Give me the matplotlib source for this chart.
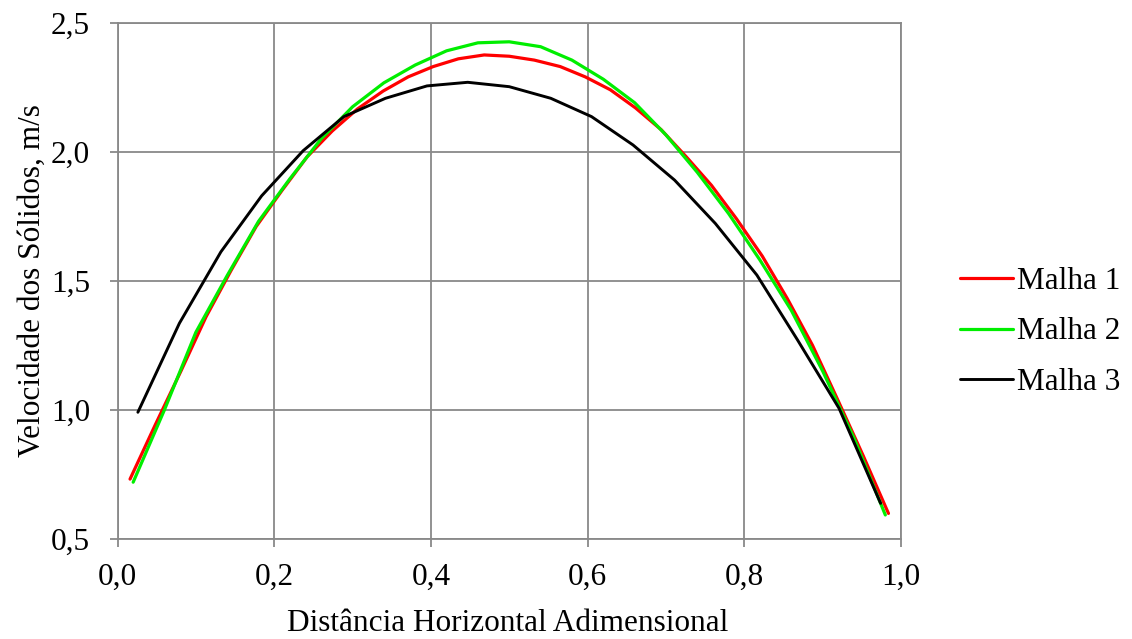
import matplotlib
matplotlib.use("Agg")
import matplotlib.pyplot as plt
from matplotlib.ticker import FuncFormatter, MultipleLocator

# Malha 1 (31 points)
x1 = [0.016, 0.048, 0.081, 0.113, 0.145, 0.177, 0.210, 0.242, 0.274, 0.306, 0.339,
      0.371, 0.403, 0.435, 0.468, 0.500, 0.532, 0.565, 0.597, 0.629, 0.661, 0.694,
      0.726, 0.758, 0.790, 0.823, 0.855, 0.887, 0.919, 0.952, 0.984]
y1 = [0.731, 0.94, 1.15, 1.36, 1.54, 1.71, 1.85, 1.98, 2.08, 2.165, 2.235,
      2.29, 2.33, 2.36, 2.375, 2.37, 2.355, 2.33, 2.29, 2.24, 2.17, 2.085,
      1.98, 1.87, 1.74, 1.595, 1.43, 1.25, 1.04, 0.82, 0.598]

# Malha 2 (25 points)
x2 = [0.02, 0.06, 0.10, 0.14, 0.18, 0.22, 0.26, 0.30, 0.34, 0.38, 0.42, 0.46, 0.50,
      0.54, 0.58, 0.62, 0.66, 0.70, 0.74, 0.78, 0.82, 0.86, 0.90, 0.94, 0.98]
y2 = [0.719, 1.0, 1.30, 1.52, 1.73, 1.895, 2.05, 2.174, 2.267, 2.336, 2.391, 2.422, 2.426,
      2.407, 2.355, 2.281, 2.19, 2.065, 1.92, 1.76, 1.58, 1.385, 1.15, 0.89, 0.592]

# Malha 3 (19 points)
x3 = [0.026, 0.079, 0.132, 0.184, 0.237, 0.289, 0.342, 0.395, 0.447, 0.500,
      0.553, 0.605, 0.658, 0.711, 0.763, 0.816, 0.868, 0.921, 0.974]
y3 = [0.99, 1.335, 1.612, 1.829, 2.004, 2.136, 2.207, 2.255, 2.269, 2.252,
      2.207, 2.136, 2.026, 1.890, 1.722, 1.522, 1.270, 1.005, 0.637]

labels = ["Malha 1", "Malha 2", "Malha 3"]
colors = ["#FF0000", "#00EE00", "#000000"]

plt.rcParams['font.family'] = ['Liberation Serif', 'DejaVu Serif']
FS = 22.5

fig = plt.figure(figsize=(11.32, 6.39), dpi=100)
ax = fig.add_axes([117.5/1132, 1-538.7/639, (901-117.5)/1132, (538.7-22.7)/639])

for xs, ys, lab, c, lw in zip([x1, x2, x3], [y1, y2, y3], labels, colors, [2.3, 2.3, 2.1]):
    ax.plot(xs, ys, color=c, lw=lw, label=lab, solid_capstyle='round', solid_joinstyle='round')

ax.set_xlim(0, 1.0)
ax.set_ylim(0.5, 2.5)
ax.xaxis.set_major_locator(MultipleLocator(0.2))
ax.yaxis.set_major_locator(MultipleLocator(0.5))
fmt = FuncFormatter(lambda v, p: f"{v:.1f}".replace('.', ','))
ax.xaxis.set_major_formatter(fmt)
ax.yaxis.set_major_formatter(fmt)

grid_c = "#898989"
ax.grid(True, color=grid_c, lw=1.3)
ax.set_axisbelow(True)
for s in ax.spines.values():
    s.set_color(grid_c)
    s.set_linewidth(1.3)
ax.tick_params(axis='both', direction='out', length=5.8, width=1.3, color=grid_c,
               labelsize=FS)
ax.tick_params(axis='x', pad=11.5)
ax.tick_params(axis='y', pad=14)

ax.set_xlabel("Distância Horizontal Adimensional", fontsize=FS)
ax.set_ylabel("Velocidade dos Sólidos, m/s", fontsize=FS)
ax.xaxis.set_label_coords(0.4984, (538.7-609)/516)
ax.yaxis.set_label_coords((47-117.5)/783.5, 0.50)

fig.legend(loc='center left', bbox_to_anchor=(960/1132, 1-332/639), frameon=False,
           fontsize=FS, handlelength=1.7, handletextpad=0.13, labelspacing=0.68,
           borderpad=0, borderaxespad=0)

fig.savefig("out.png", dpi=100)
